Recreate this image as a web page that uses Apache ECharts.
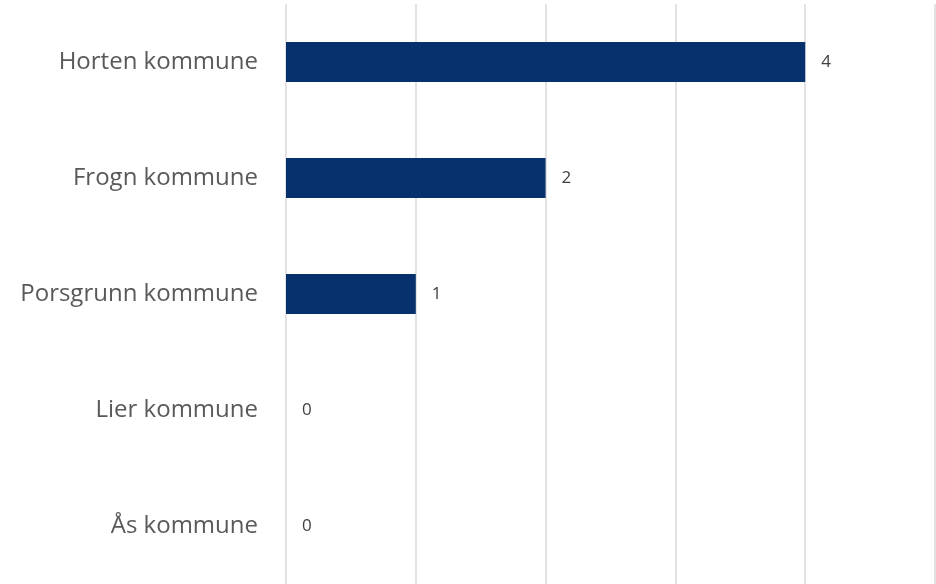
<!DOCTYPE html>
<html><head><meta charset="utf-8">
<script src="https://cdn.jsdelivr.net/npm/echarts@6/dist/echarts.min.js"></script>
<style>html,body{margin:0;padding:0;background:#fff}#c{width:936px;height:584px}</style>
</head><body><div id="c"></div>
<script>
const categories = ["Horten kommune", "Frogn kommune", "Porsgrunn kommune", "Lier kommune", "Ås kommune"];
const values = [4, 2, 1, 0, 0];
const axisMax = 5;

const chart = echarts.init(document.getElementById('c'));
chart.setOption({
  animation: false,
  grid: { left: 286, right: 1, top: 4, bottom: 0, containLabel: false },
  xAxis: {
    type: 'value', min: 0, max: axisMax, interval: 1,
    axisLabel: { show: false }, axisLine: { show: false }, axisTick: { show: false },
    splitLine: { show: true, lineStyle: { color: '#d9d9d9', width: 1.5 } }
  },
  yAxis: {
    type: 'category', data: categories, inverse: true,
    axisLine: { show: false }, axisTick: { show: false },
    axisLabel: { margin: 28, fontFamily: 'Open Sans', fontSize: 24, color: '#595959' }
  },
  series: [{
    type: 'bar', data: values, barWidth: 40,
    itemStyle: { color: '#07316d' },
    label: { show: true, position: 'right', distance: 16, fontFamily: 'Open Sans', fontSize: 17, color: '#404040' }
  }]
});
</script></body></html>
